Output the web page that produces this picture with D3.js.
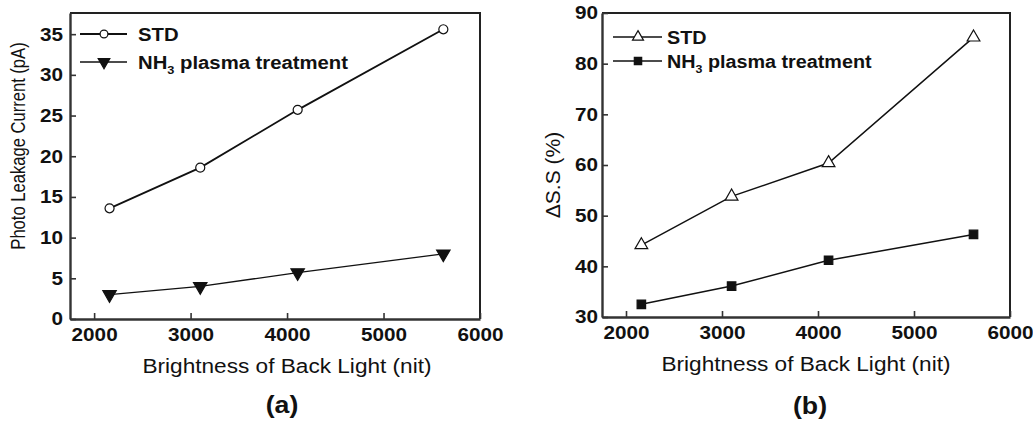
<!DOCTYPE html>
<html><head><meta charset="utf-8">
<script src="https://cdn.jsdelivr.net/npm/d3@7"></script>
<style>
html,body{margin:0;padding:0;background:#fff;}
text{font-family:"Liberation Sans",Arial,sans-serif;fill:#111;}
</style></head>
<body>
<svg id="chart" width="1033" height="422"></svg>
<script>
// ---- data ----
const brightness = [2160, 3100, 4110, 5620];
const leakSTD = [13.6, 18.6, 25.7, 35.6];
const leakNH3 = [3.0, 4.0, 5.7, 8.0];
const ssSTD = [44.2, 53.8, 60.4, 85.2];
const ssNH3 = [32.5, 36.1, 41.2, 46.3];
const xTicks = [2000, 3000, 4000, 5000, 6000];
const leakTicks = [0, 5, 10, 15, 20, 25, 30, 35];
const ssTicks = [30, 40, 50, 60, 70, 80, 90];
const seriesNames = ["STD", "NH3 plasma treatment"];

const svg = d3.select("#chart");
const SX = 1.16; // horizontal stretch of text in the reference
const TSX = 1.12; // stretch of tick labels

function panel(o) {
  const x = d3.scaleLinear().domain([1750, 6000]).range([o.left, o.right]);
  const y = d3.scaleLinear().domain(o.yDomain).range([o.bottom, o.top]);
  const g = svg.append("g");

  // frame (top & right)
  g.append("path")
    .attr("d", `M${o.left},${o.top}H${o.right}V${o.bottom}`)
    .attr("fill", "none").attr("stroke", "#222").attr("stroke-width", 2);

  const xa = g.append("g").attr("transform", `translate(0,${o.bottom})`)
    .call(d3.axisBottom(x).tickValues(xTicks).tickSizeInner(-6).tickSizeOuter(0).tickPadding(9).tickFormat(d3.format("d")));
  const ya = g.append("g").attr("transform", `translate(${o.left},0)`)
    .call(d3.axisLeft(y).tickValues(o.yTicks).tickSizeInner(-6).tickSizeOuter(0).tickPadding(o.yPad).tickFormat(d3.format("d")));
  [xa, ya].forEach(a => {
    a.select(".domain").attr("stroke", "#333").attr("stroke-width", 2.4);
    a.selectAll(".tick line").attr("stroke", "#333").attr("stroke-width", 1.6);
    a.selectAll(".tick text").attr("font-size", 18.5).attr("font-weight", "bold")
      .attr("font-family", '"Liberation Sans",Arial,sans-serif').attr("fill", "#111");
  });
  xa.selectAll(".tick text").attr("transform", `scale(${TSX},1)`);
  ya.selectAll(".tick text").attr("transform", `scale(${TSX},1)`).attr("x", -o.yPad / TSX);

  const line = d3.line().x((d, i) => x(brightness[i])).y(d => y(d));
  o.series.forEach(s => {
    g.append("path").datum(s.values).attr("d", line)
      .attr("fill", "none").attr("stroke", "#111").attr("stroke-width", s.lw);
    g.selectAll(null).data(s.values).enter().append("path")
      .attr("transform", (d, i) => `translate(${x(brightness[i])},${y(d)})` + (s.rot ? " rotate(180)" : ""))
      .attr("d", d3.symbol().type(s.type).size(s.size))
      .attr("fill", s.fill).attr("stroke", "#111").attr("stroke-width", 1.2);
  });

  // legend
  o.series.forEach((s, i) => {
    const ly = o.legY[i];
    g.append("line").attr("x1", o.legX[0]).attr("x2", o.legX[2]).attr("y1", ly).attr("y2", ly)
      .attr("stroke", "#111").attr("stroke-width", s.lw);
    g.append("path").attr("transform", `translate(${o.legX[1]},${ly})` + (s.rot ? " rotate(180)" : ""))
      .attr("d", d3.symbol().type(s.type).size(s.size * 0.75))
      .attr("fill", s.fill).attr("stroke", "#111").attr("stroke-width", 1.2);
    const t = g.append("g").attr("transform", `translate(${o.legText},${ly + 6.5}) scale(${o.legSX},1)`)
      .append("text").attr("font-size", 17.5).attr("font-weight", "bold");
    if (seriesNames[i] === "STD") {
      t.text("STD");
    } else {
      t.append("tspan").text("NH");
      t.append("tspan").attr("font-size", 11).attr("dy", 5).text("3");
      t.append("tspan").attr("dy", -5).text(" plasma treatment");
    }
  });

  // axis titles
  g.append("g").attr("transform", `translate(${o.xLabX},${o.bottom + 54}) scale(${SX},1)`)
    .append("text").attr("text-anchor", "middle").attr("font-size", 19.5).text("Brightness of Back Light (nit)");
  g.append("text").attr("transform", `translate(${o.yLabX},${o.yLabY}) scale(${o.yLabSX},1) rotate(-90)`)
    .attr("text-anchor", "middle").attr("font-size", o.yLabSize).text(o.yLabel);
  g.append("g").attr("transform", `translate(${o.capX},${o.capY}) scale(${SX},1)`)
    .append("text").attr("text-anchor", "middle").attr("font-size", 23).attr("font-weight", "bold").text(o.caption);
}

panel({
  left: 70, right: 480, top: 13, bottom: 319,
  yDomain: [0, 37.6], yTicks: leakTicks, yPad: 7,
  series: [
    {values: leakSTD, type: d3.symbolCircle, size: 64, fill: "#fff", lw: 1.8, rot: false},
    {values: leakNH3, type: d3.symbolTriangle, size: 78, fill: "#111", lw: 1.3, rot: true}
  ],
  legX: [80, 104, 127], legY: [34, 62], legText: 138, legSX: 1.16,
  xLabX: 287, yLabX: 25, yLabY: 146, yLabel: "Photo Leakage Current (pA)", yLabSize: 16.6, yLabSX: 1.25,
  capX: 282, capY: 413, caption: "(a)"
});

panel({
  left: 602, right: 1010, top: 13, bottom: 317,
  yDomain: [30, 90], yTicks: ssTicks, yPad: 4,
  series: [
    {values: ssSTD, type: d3.symbolTriangle, size: 70, fill: "#fff", lw: 1.5, rot: false},
    {values: ssNH3, type: d3.symbolSquare, size: 72, fill: "#111", lw: 1.5, rot: false}
  ],
  legX: [613, 638, 662], legY: [37, 61], legText: 667, legSX: 1.13,
  xLabX: 806, yLabX: 560, yLabY: 175, yLabel: "\u0394S.S (%)", yLabSize: 21, yLabSX: 1.0,
  capX: 810, capY: 414, caption: "(b)"
});
</script>
</body></html>
